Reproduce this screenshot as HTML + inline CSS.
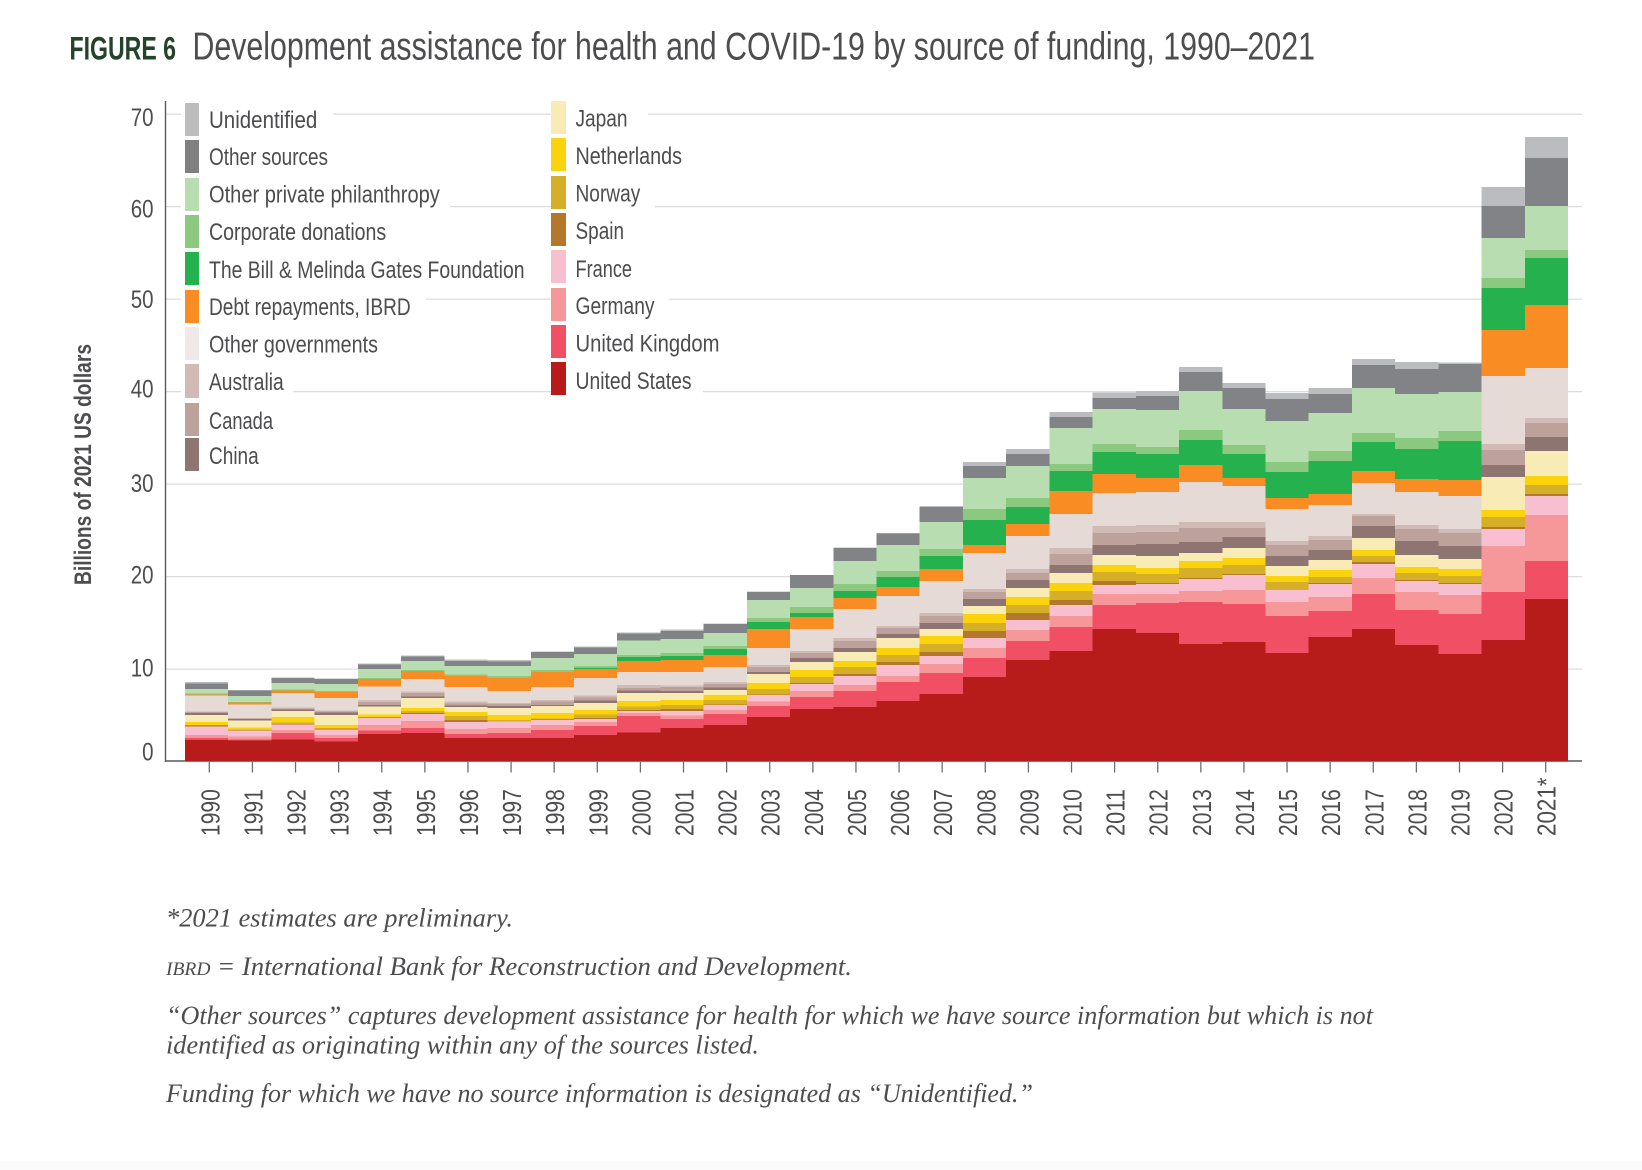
<!DOCTYPE html>
<html lang="en">
<head>
<meta charset="utf-8">
<title>Figure 6: Development assistance for health and COVID-19 by source of funding, 1990–2021</title>
<style>
  html, body { margin: 0; padding: 0; background: #fff; }
  svg { display: block; }
  .sans { font-family: "Liberation Sans Narrow", "Liberation Sans", sans-serif; fill: #4d4d4f; }
  .note { font-family: "Liberation Serif", serif; font-style: italic; font-size: 26px; fill: #4d4d4f; }
  .legend-text { font-size: 24.5px; }
</style>
</head>
<body>
<svg id="chart" xmlns="http://www.w3.org/2000/svg" width="1642" height="1170" viewBox="0 0 1642 1170">
  <rect x="0" y="0" width="1642" height="1170" fill="#ffffff"/>
  <rect x="0" y="1161" width="1642" height="9" fill="#fbfbfb"/>

  <text class="sans" x="69.5" y="59.5" font-size="32" font-weight="700" style="fill:#24432b" textLength="106.5" lengthAdjust="spacingAndGlyphs">FIGURE 6</text>
  <text class="sans" x="192.5" y="59.5" font-size="38.5" textLength="1122.5" lengthAdjust="spacingAndGlyphs">Development assistance for health and COVID-19 by source of funding, 1990–2021</text>

  <text class="sans" transform="translate(91 585) rotate(-90)" font-size="24" font-weight="700" textLength="241" lengthAdjust="spacingAndGlyphs">Billions of 2021 US dollars</text>

  <g id="grid"></g>
  <g fill="#ffffff">
    <rect x="181" y="108" width="152" height="12"/>
    <rect x="566" y="108" width="82" height="12"/>
    <rect x="181" y="200" width="269" height="12"/>
    <rect x="566" y="200" width="89" height="12"/>
    <rect x="181" y="293" width="245" height="12"/>
    <rect x="566" y="293" width="103" height="12"/>
    <rect x="181" y="385" width="112" height="12"/>
    <rect x="566" y="385" width="137" height="12"/>
  </g>
  <g id="marks" shape-rendering="crispEdges"></g>
  <g id="axes"></g>

  <g shape-rendering="crispEdges">
    <rect x="185" y="103" width="14" height="33" fill="#bdbdbd"/>
    <rect x="185" y="140" width="14" height="33" fill="#808080"/>
    <rect x="185" y="178" width="14" height="33" fill="#b8ddb0"/>
    <rect x="185" y="215" width="14" height="33" fill="#8ac97f"/>
    <rect x="185" y="252" width="14" height="33" fill="#25b14d"/>
    <rect x="185" y="290" width="14" height="33" fill="#f98c23"/>
    <rect x="185" y="327" width="14" height="33" fill="#efeae7"/>
    <rect x="185" y="364" width="14" height="34" fill="#d1bbb7"/>
    <rect x="185" y="403" width="14" height="33" fill="#bda19b"/>
    <rect x="185" y="438" width="14" height="33" fill="#8f7571"/>
    <rect x="551" y="101" width="15" height="33" fill="#f8ebb5"/>
    <rect x="551" y="138" width="15" height="33" fill="#fbd30d"/>
    <rect x="551" y="176" width="15" height="33" fill="#d5af27"/>
    <rect x="551" y="213" width="15" height="33" fill="#b3782b"/>
    <rect x="551" y="250" width="15" height="33" fill="#f7bfd0"/>
    <rect x="551" y="288" width="15" height="33" fill="#f69799"/>
    <rect x="551" y="325" width="15" height="33" fill="#f15064"/>
    <rect x="551" y="362" width="15" height="33" fill="#b71b1a"/>
  </g>
  <g>
    <text class="sans legend-text" x="209" y="128" textLength="108.3" lengthAdjust="spacingAndGlyphs">Unidentified</text>
    <text class="sans legend-text" x="209" y="165" textLength="119" lengthAdjust="spacingAndGlyphs">Other sources</text>
    <text class="sans legend-text" x="209" y="202.7" textLength="230.8" lengthAdjust="spacingAndGlyphs">Other private philanthropy</text>
    <text class="sans legend-text" x="209" y="240" textLength="177.2" lengthAdjust="spacingAndGlyphs">Corporate donations</text>
    <text class="sans legend-text" x="209" y="278" textLength="315.5" lengthAdjust="spacingAndGlyphs">The Bill &amp; Melinda Gates Foundation</text>
    <text class="sans legend-text" x="209" y="315" textLength="201.7" lengthAdjust="spacingAndGlyphs">Debt repayments, IBRD</text>
    <text class="sans legend-text" x="209" y="352.7" textLength="169" lengthAdjust="spacingAndGlyphs">Other governments</text>
    <text class="sans legend-text" x="209" y="390" textLength="74.7" lengthAdjust="spacingAndGlyphs">Australia</text>
    <text class="sans legend-text" x="209" y="429" textLength="64" lengthAdjust="spacingAndGlyphs">Canada</text>
    <text class="sans legend-text" x="209" y="464" textLength="49.7" lengthAdjust="spacingAndGlyphs">China</text>
    <text class="sans legend-text" x="575.5" y="126.7" textLength="52" lengthAdjust="spacingAndGlyphs">Japan</text>
    <text class="sans legend-text" x="575.5" y="164" textLength="106.5" lengthAdjust="spacingAndGlyphs">Netherlands</text>
    <text class="sans legend-text" x="575.5" y="201.7" textLength="64.8" lengthAdjust="spacingAndGlyphs">Norway</text>
    <text class="sans legend-text" x="575.5" y="239" textLength="48.5" lengthAdjust="spacingAndGlyphs">Spain</text>
    <text class="sans legend-text" x="575.5" y="277" textLength="56.5" lengthAdjust="spacingAndGlyphs">France</text>
    <text class="sans legend-text" x="575.5" y="314" textLength="79" lengthAdjust="spacingAndGlyphs">Germany</text>
    <text class="sans legend-text" x="575.5" y="351.7" textLength="144" lengthAdjust="spacingAndGlyphs">United Kingdom</text>
    <text class="sans legend-text" x="575.5" y="389" textLength="116" lengthAdjust="spacingAndGlyphs">United States</text>
  </g>

  <g>
    <text class="note" x="166" y="926.7" textLength="347" lengthAdjust="spacingAndGlyphs">*2021 estimates are preliminary.</text>
    <text class="note" x="166" y="975" textLength="686" lengthAdjust="spacingAndGlyphs"><tspan font-size="19">IBRD</tspan> = International Bank for Reconstruction and Development.</text>
    <text class="note" x="166" y="1024" textLength="1207" lengthAdjust="spacingAndGlyphs">“Other sources” captures development assistance for health for which we have source information but which is not</text>
    <text class="note" x="166" y="1053.3" textLength="593" lengthAdjust="spacingAndGlyphs">identified as originating within any of the sources listed.</text>
    <text class="note" x="166" y="1102" textLength="867" lengthAdjust="spacingAndGlyphs">Funding for which we have no source information is designated as “Unidentified.”</text>
  </g>
</svg>

<script>
// ---- chart data: billions of 2021 US dollars ----
const years = ["1990","1991","1992","1993","1994","1995","1996","1997","1998","1999","2000","2001","2002","2003","2004","2005","2006","2007","2008","2009","2010","2011","2012","2013","2014","2015","2016","2017","2018","2019","2020","2021*"];
const yTickValues = [0,10,20,30,40,50,60,70];

const unitedStates = [2.34,2.27,2.38,2.20,2.99,3.10,2.56,2.56,2.56,2.88,3.14,3.64,3.96,4.83,5.69,5.91,6.56,7.32,9.15,10.99,11.96,14.34,13.91,12.72,12.94,11.75,13.48,14.34,12.61,11.64,13.15,17.59];
const unitedKingdom = [.22,.14,.72,.36,.36,.54,.43,.54,.86,.97,1.80,.94,1.19,1.19,1.30,1.73,2.05,2.27,2.05,2.05,2.59,2.59,3.24,4.54,4.11,4.00,2.81,3.78,3.78,4.32,5.19,4.11];
const germany = [.32,.29,.32,.32,.61,.76,.54,.54,.54,.43,.29,.43,.43,.50,.65,.65,.65,.97,1.08,1.19,1.19,1.19,.97,1.19,1.51,1.51,1.51,1.73,1.95,2.05,4.97,4.97];
const france = [.94,.68,.58,.61,.76,.76,.76,.68,.54,.32,.25,.47,.54,.68,.76,.97,1.19,.86,1.08,1.08,1.19,.97,1.08,1.30,1.62,1.30,1.41,1.51,1.19,1.19,1.84,2.05];
const spain = [.07,.04,.07,.07,.04,.11,.22,0,.07,.11,.11,.18,.07,.07,.11,.22,.32,.43,.76,.76,.54,.43,.11,.11,.11,0,.11,.22,.11,.11,.22,.22];
const norway = [.04,.07,.14,.04,.04,.18,.43,.18,.11,.36,.36,.47,.47,.58,.65,.76,.76,.86,.86,.86,.97,.97,.97,1.08,.97,.86,.65,.65,.76,.76,1.08,.97];
const netherlands = [.36,.22,.61,.36,.29,.36,.43,.54,.58,.50,.61,.54,.54,.65,.76,.65,.76,.86,.97,.86,.86,.76,.65,.76,.76,.65,.76,.65,.65,.76,.76,.97];
const japan = [.76,.72,.65,1.08,.86,1.08,.54,.76,.76,.76,.83,.72,.54,.97,.86,.97,1.08,.76,.86,.97,1.08,1.08,1.30,.86,1.08,1.08,1.08,1.30,1.30,1.08,3.57,2.70];
const china = [.18,.18,.18,.29,.18,.14,.14,.22,.11,.25,.29,.25,.25,.22,.43,.43,.43,.65,.76,.86,.86,1.08,1.30,1.19,1.19,1.08,1.08,1.30,1.51,1.41,1.30,1.51];
const canada = [.11,.07,.11,.11,.29,.36,.25,.22,.36,.36,.25,.40,.40,.54,.54,.76,.65,.76,.76,.76,1.19,1.30,1.30,1.51,.97,1.19,1.08,1.08,1.30,1.41,1.62,1.51];
const australia = [.07,.04,.07,.07,.22,.18,.22,.11,.18,.18,.36,.18,.22,.22,.22,.32,.22,.32,.32,.43,.65,.76,.76,.65,.65,.43,.43,.22,.43,.43,.65,.54];
const otherGovernments = [1.73,1.44,1.59,1.37,1.48,1.37,1.55,1.30,1.41,1.91,1.41,1.48,1.62,1.84,2.38,3.14,3.24,3.46,3.89,3.57,3.68,3.57,3.57,4.32,3.89,3.46,3.35,3.35,3.57,3.57,7.35,5.41];
const debtRepayments = [.11,.22,.25,.65,.83,.86,1.19,1.41,1.62,.97,1.19,1.30,1.30,2.05,1.30,1.19,.97,1.30,.86,1.30,2.49,2.05,1.51,1.84,.86,1.19,1.19,1.30,1.41,1.73,4.97,6.81];
const gatesFoundation = [0,0,0,0,0,0,0,0,0,.11,.43,.43,.65,.76,.43,.76,1.08,1.41,2.70,1.84,2.16,2.38,2.59,2.70,2.59,2.81,3.57,3.14,3.24,4.22,4.54,5.08];
const corporateDonations = [.11,.07,.14,.11,.11,.11,.18,.22,.22,.22,.22,.32,.32,.43,.65,.76,.65,.76,1.19,.97,.76,.86,.76,1.08,.97,1.08,1.08,.97,1.19,1.08,1.08,.86];
const otherPrivatePhilanthropy = [.50,.65,.68,.76,.97,.97,.90,1.08,1.30,1.30,1.55,1.51,1.41,1.95,2.05,2.49,2.81,2.92,3.35,3.46,3.89,3.78,4.00,4.22,3.89,4.43,4.11,4.86,4.76,4.22,4.32,4.76];
const otherSources = [.61,.61,.54,.54,.47,.50,.54,.47,.61,.72,.76,.86,.97,.86,1.37,1.37,1.26,1.62,1.30,1.30,1.19,1.19,1.51,2.05,2.27,2.38,2.05,2.49,2.70,3.03,3.46,5.19];
const unidentified = [.11,.04,.07,.07,.11,.11,.18,.18,.07,.11,.11,.14,.04,.04,.04,.07,.04,.11,.43,.54,.54,.58,.54,.54,.54,.65,.65,.65,.76,.11,2.05,2.27];

// stacking order, bottom to top
const seriesStack = [
  ["united-states", unitedStates, "#b71b1a"],
  ["united-kingdom", unitedKingdom, "#f15064"],
  ["germany", germany, "#f69799"],
  ["france", france, "#f7bfd0"],
  ["spain", spain, "#b3782b"],
  ["norway", norway, "#d5af27"],
  ["netherlands", netherlands, "#fbd30d"],
  ["japan", japan, "#f8ebb5"],
  ["china", china, "#8f7571"],
  ["canada", canada, "#bda19b"],
  ["australia", australia, "#d1bbb7"],
  ["other-governments", otherGovernments, "#e5dad6"],
  ["debt-repayments", debtRepayments, "#f98c23"],
  ["gates-foundation", gatesFoundation, "#25b14d"],
  ["corporate-donations", corporateDonations, "#8ac97f"],
  ["other-private-philanthropy", otherPrivatePhilanthropy, "#b8ddb0"],
  ["other-sources", otherSources, "#828387"],
  ["unidentified", unidentified, "#bbbcbf"]
];

// ---- axis functions ----
const NS = "http://www.w3.org/2000/svg";
function yScale(v) { return 761.6 - v * 9.25; }
function bandLeft(i) { return 185 + i * 43.22; }
function tickX(i) { return 209.3 + i * 43.11; }

// small hand alignment of the y tick labels relative to their tick, by tick order
const yLabelNudge = [-1, 7.5, 7, 8, 6, 9, 11, 12];

const gridGroup = document.getElementById("grid");
const marksGroup = document.getElementById("marks");
const axesGroup = document.getElementById("axes");

// gridlines
yTickValues.forEach(function (v) {
  if (v === 0) return;
  const line = document.createElementNS(NS, "line");
  
  
  line.setAttribute("x1", 165);
  line.setAttribute("x2", 1582);
  line.setAttribute("y1", yScale(v));
  line.setAttribute("y2", yScale(v));
  line.setAttribute("stroke", "#dcdcdc");
  line.setAttribute("stroke-width", "1.2");
  gridGroup.appendChild(line);
});

// stacked step areas
const running = years.map(function () { return 0; });
seriesStack.forEach(function (s) {
  const values = s[1];
  let top = "";
  let bottom = "";
  years.forEach(function (_, i) {
    const l = bandLeft(i).toFixed(1);
    const r = bandLeft(i + 1).toFixed(1);
    const y0 = yScale(running[i]).toFixed(1);
    const y1 = yScale(running[i] + values[i]).toFixed(1);
    top += (i === 0 ? "M" : "L") + l + " " + y1 + "L" + r + " " + y1;
    bottom = "L" + r + " " + y0 + "L" + l + " " + y0 + bottom;
    running[i] += values[i];
  });
  const path = document.createElementNS(NS, "path");
  
  
  path.setAttribute("d", top + bottom + "Z");
  path.setAttribute("fill", s[2]);
  marksGroup.appendChild(path);
});

// axis lines
const yAxisLine = document.createElementNS(NS, "line");


yAxisLine.setAttribute("x1", 165.5);
yAxisLine.setAttribute("x2", 165.5);
yAxisLine.setAttribute("y1", 101);
yAxisLine.setAttribute("y2", 762);
yAxisLine.setAttribute("stroke", "#58595b");
yAxisLine.setAttribute("stroke-width", "1.4");
axesGroup.appendChild(yAxisLine);

const xAxisLine = document.createElementNS(NS, "line");


xAxisLine.setAttribute("x1", 165);
xAxisLine.setAttribute("x2", 1582);
xAxisLine.setAttribute("y1", 761);
xAxisLine.setAttribute("y2", 761);
xAxisLine.setAttribute("stroke", "#58595b");
xAxisLine.setAttribute("stroke-width", "1.4");
marksGroup.parentNode.insertBefore(xAxisLine, marksGroup);

// y tick labels
yTickValues.forEach(function (v, i) {
  const t = document.createElementNS(NS, "text");
  
  
  t.setAttribute("class", "sans");
  t.setAttribute("x", 153.5);
  t.setAttribute("y", yScale(v) + yLabelNudge[i]);
  t.setAttribute("text-anchor", "end");
  t.setAttribute("font-size", "25");
  t.setAttribute("textLength", String(v).length * 11.4);
  t.setAttribute("lengthAdjust", "spacingAndGlyphs");
  t.textContent = String(v);
  axesGroup.appendChild(t);
});

// x ticks and rotated year labels
years.forEach(function (label, i) {
  const tick = document.createElementNS(NS, "line");
  
  
  tick.setAttribute("x1", tickX(i));
  tick.setAttribute("x2", tickX(i));
  tick.setAttribute("y1", 762);
  tick.setAttribute("y2", 772.5);
  tick.setAttribute("stroke", "#6d6e71");
  tick.setAttribute("stroke-width", "1.3");
  axesGroup.appendChild(tick);

  const t = document.createElementNS(NS, "text");
  
  
  t.setAttribute("class", "sans");
  t.setAttribute("transform", "translate(" + (tickX(i) + 10) + " 836) rotate(-90)");
  t.setAttribute("font-size", "25.5");
  t.setAttribute("textLength", label.length * 11.7);
  t.setAttribute("lengthAdjust", "spacingAndGlyphs");
  t.textContent = label;
  axesGroup.appendChild(t);
});
</script>
</body>
</html>
